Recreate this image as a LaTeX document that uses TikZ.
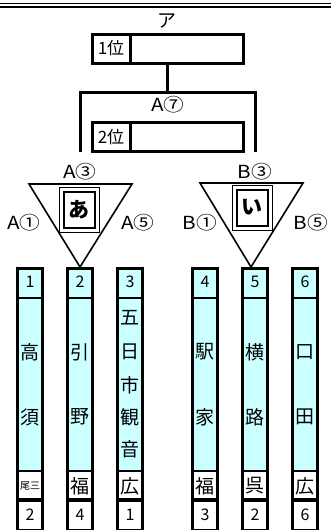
\documentclass[tikz,border=0pt]{standalone}
\usepackage{fontspec}
\setmainfont{Noto Sans CJK JP}
\newfontfamily\lblfont{Noto Sans CJK JP}[FakeStretch=1.15]
\usetikzlibrary{calc}
\definecolor{lcyan}{HTML}{CCFFFF}
\begin{document}
\begin{tikzpicture}[x=1pt,y=-1pt,
  lbl/.style={font=\lblfont\fontsize{18}{18}\selectfont, inner sep=0pt},
  titlelbl/.style={font=\fontsize{19}{19}\selectfont, inner sep=0pt},
  rankbox/.style={draw, line width=3pt, minimum width=151pt, minimum height=29pt, inner sep=0pt},
  ranklbl/.style={draw, line width=3pt, minimum width=38pt, minimum height=29pt, font=\fontsize{17}{17}\selectfont, inner sep=0pt},
  bracket/.style={line width=3pt},
  tri/.style={line width=1.6pt, line join=miter},
  groupbox/.style={draw, line width=2pt, minimum width=31pt, minimum height=36pt, inner sep=0pt, font=\bfseries\fontsize{21}{21}\selectfont},
  outerframe/.style={line width=0.9pt},
  num/.style={font=\fontsize{16}{16}\selectfont, inner sep=0pt},
  kanji/.style={font=\fontsize{19}{19}\selectfont, inner sep=0pt},
  colline/.style={line width=3pt},
]
\useasboundingbox (0,0) rectangle (331,530);
% top double rule
\draw[line width=1pt] (0,3.5) -- (331,3.5);
\draw[line width=2pt] (0,6.5) -- (331,6.5);

% title
\node[titlelbl] (title) at (167,20.5) {ア};

% rank boxes
\node[rankbox] (first) at (167.5,48.5) {};
\node[ranklbl, anchor=west] (firstlbl) at (first.west) {1位};
\node[rankbox] (second) at (167.5,137) {};
\node[ranklbl, anchor=west] (secondlbl) at (second.west) {2位};

% bracket
\coordinate (jn) at (167.5,92);
\coordinate (bl) at (80,92);
\coordinate (br) at (255,92);
\coordinate (blend) at (80,150);
\coordinate (brend) at (255,150);
\draw[bracket] (first.south) -- (jn);
\draw[bracket, line cap=rect] (blend) -- (bl) -- (br) -- (brend);
\node[lbl] (final) at (168,105) {A⑦};

% group labels
\node[lbl] (a3) at (80,172) {A③};
\node[lbl] (b3) at (255,172) {B③};
\node[lbl] (a1) at (24,223) {A①};
\node[lbl] (a5) at (138,223) {A⑤};
\node[lbl] (b1) at (200,223) {B①};
\node[lbl] (b5) at (311,223) {B⑤};

% triangles
\coordinate (tal) at (29,184);
\coordinate (tar) at (132,184);
\coordinate (taa) at (80,267);
\coordinate (tbl) at (200,183);
\coordinate (tbr) at (303,183);
\coordinate (tba) at (251,267);
\draw[tri] (tal) -- (tar) -- (taa) -- cycle;
\draw[tri] (tbl) -- (tbr) -- (tba) -- cycle;
\node[groupbox] (ga) at (79,209.5) {あ};
\node[groupbox] (gb) at (252,207.5) {い};
\draw[outerframe] ($(ga.north west)+(-3.5,-3.5)$) rectangle ($(ga.south east)+(3.5,3.5)$);
\draw[outerframe] ($(gb.north west)+(-3.5,-3.5)$) rectangle ($(gb.south east)+(3.5,3.5)$);

% columns
\foreach \c in {30,80,130,205,255,305}{
  \fill[lcyan] (\c-12,268) rectangle (\c+12,471);
  \draw[colline] (\c-12.5,267) -- (\c-12.5,531);
  \draw[colline] (\c+12.5,267) -- (\c+12.5,531);
  \draw[line width=3pt] (\c-14,268.5) -- (\c+14,268.5);
  \draw[line width=2pt] (\c-12.5,297.5) -- (\c+12.5,297.5);
  \draw[line width=2pt] (\c-12.5,471) -- (\c+12.5,471);
  \draw[line width=3.5pt] (\c-12.5,500) -- (\c+12.5,500);
  \draw[line width=2pt] (\c-12.5,529.5) -- (\c+12.5,529.5);
}

% seed numbers
\node[num] (n1) at (30,282) {1};
\node[num] (n2) at (80,282) {2};
\node[num] (n3) at (130,282) {3};
\node[num] (n4) at (205,282) {4};
\node[num] (n5) at (255,282) {5};
\node[num] (n6) at (305,282) {6};

% names
\node[kanji] (k1a) at (30,352) {高};
\node[kanji] (k1b) at (30,417) {須};
\node[kanji] (k2a) at (80,352) {引};
\node[kanji] (k2b) at (80,417) {野};
\node[kanji] (k3a) at (130,318) {五};
\node[kanji] (k3b) at (130,352) {日};
\node[kanji] (k3c) at (130,385) {市};
\node[kanji] (k3d) at (130,417) {観};
\node[kanji] (k3e) at (130,449) {音};
\node[kanji] (k4a) at (205,352) {駅};
\node[kanji] (k4b) at (205,417) {家};
\node[kanji] (k5a) at (255,352) {横};
\node[kanji] (k5b) at (255,417) {路};
\node[kanji] (k6a) at (305,352) {口};
\node[kanji] (k6b) at (305,417) {田};

% prefecture / area
\node[font=\fontsize{10}{10}\selectfont, inner sep=0pt] (p1) at (30,486) {尾三};
\node[kanji] (p2) at (80,486) {福};
\node[kanji] (p3) at (130,486) {広};
\node[kanji] (p4) at (205,486) {福};
\node[kanji] (p5) at (255,486) {呉};
\node[kanji] (p6) at (305,486) {広};

% ranks
\node[num] (r1) at (30,515) {2};
\node[num] (r2) at (80,515) {4};
\node[num] (r3) at (130,515) {1};
\node[num] (r4) at (205,515) {3};
\node[num] (r5) at (255,515) {2};
\node[num] (r6) at (305,515) {6};
\end{tikzpicture}
\end{document}
